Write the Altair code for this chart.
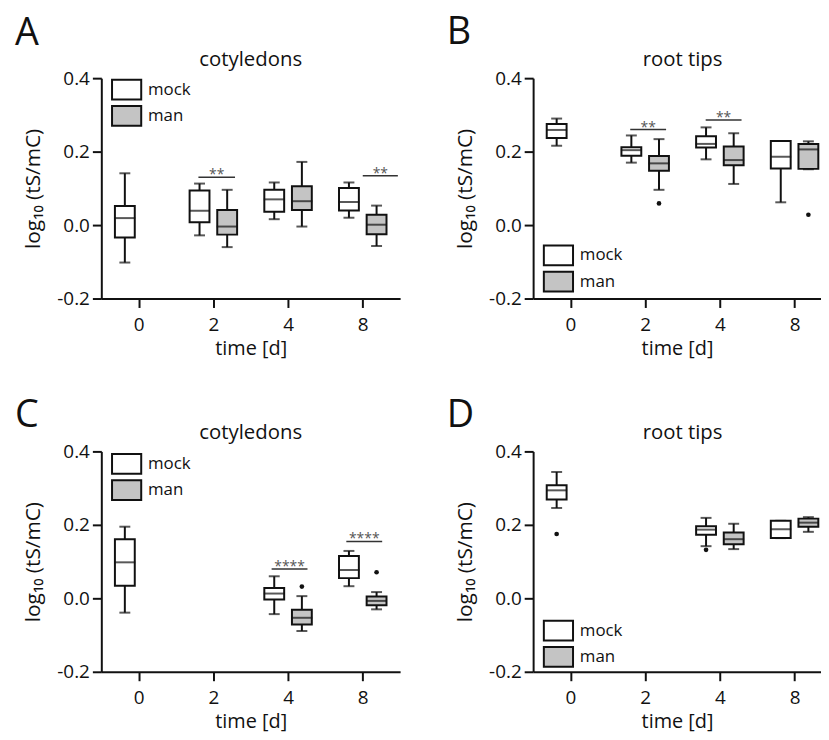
import json
import altair as alt
import pandas as pd

# ---------------- data ----------------
times = ["0", "2", "4", "8"]
groups = ["mock", "man"]
fill_colors = ["white", "#c4c4c4"]

# Panel A - cotyledons
A_time = ["0", "2", "2", "4", "4", "8", "8"]
A_group = ["mock", "mock", "man", "mock", "man", "mock", "man"]
A_low = [-0.102, -0.028, -0.060, 0.016, -0.004, 0.020, -0.057]
A_q1 = [-0.034, 0.008, -0.026, 0.036, 0.041, 0.040, -0.025]
A_med = [0.019, 0.039, -0.004, 0.070, 0.065, 0.063, 0.001]
A_q3 = [0.052, 0.094, 0.041, 0.096, 0.106, 0.101, 0.028]
A_high = [0.141, 0.113, 0.096, 0.116, 0.172, 0.116, 0.053]
A_out_time, A_out_group, A_out_val = [], [], []
A_sig_time = ["2", "8"]
A_sig_y = [0.130, 0.134]
A_sig_text = ["**", "**"]
A_sig_from = [-0.20, 0.00]
A_sig_to = [0.29, 0.47]

# Panel B - root tips
B_time = ["0", "2", "2", "4", "4", "8", "8"]
B_group = ["mock", "mock", "man", "mock", "man", "mock", "man"]
B_low = [0.216, 0.170, 0.096, 0.179, 0.112, 0.062, 0.152]
B_q1 = [0.237, 0.189, 0.148, 0.211, 0.163, 0.154, 0.153]
B_med = [0.259, 0.204, 0.168, 0.221, 0.177, 0.186, 0.206]
B_q3 = [0.275, 0.212, 0.188, 0.242, 0.214, 0.229, 0.221]
B_high = [0.290, 0.244, 0.234, 0.266, 0.250, 0.229, 0.228]
B_out_time = ["2", "8"]
B_out_group = ["man", "man"]
B_out_val = [0.059, 0.028]
B_sig_time = ["2", "4"]
B_sig_y = [0.260, 0.286]
B_sig_text = ["**", "**"]
B_sig_from = [-0.20, -0.19]
B_sig_to = [0.28, 0.29]

# Panel C - cotyledons
C_time = ["0", "4", "4", "8", "8"]
C_group = ["mock", "mock", "man", "mock", "man"]
C_low = [-0.039, -0.043, -0.089, 0.033, -0.030]
C_q1 = [0.034, -0.003, -0.071, 0.055, -0.019]
C_med = [0.098, 0.013, -0.053, 0.077, -0.007]
C_q3 = [0.161, 0.028, -0.031, 0.115, 0.005]
C_high = [0.195, 0.060, 0.006, 0.129, 0.017]
C_out_time = ["4", "8"]
C_out_group = ["man", "man"]
C_out_val = [0.032, 0.071]
C_sig_time = ["4", "8"]
C_sig_y = [0.080, 0.155]
C_sig_text = ["****", "****"]
C_sig_from = [-0.22, -0.22]
C_sig_to = [0.26, 0.26]

# Panel D - root tips
D_time = ["0", "4", "4", "8", "8"]
D_group = ["mock", "mock", "man", "mock", "man"]
D_low = [0.246, 0.142, 0.134, 0.164, 0.181]
D_q1 = [0.269, 0.173, 0.147, 0.164, 0.195]
D_med = [0.294, 0.187, 0.161, 0.188, 0.206]
D_q3 = [0.308, 0.196, 0.179, 0.211, 0.217]
D_high = [0.344, 0.219, 0.203, 0.211, 0.221]
D_out_time = ["0", "4"]
D_out_group = ["mock", "mock"]
D_out_val = [0.175, 0.132]
D_sig_time, D_sig_y, D_sig_text, D_sig_from, D_sig_to = [], [], [], [], []

# ---------------- styling ----------------
FONT = "Open Sans"
BLACK = "#111111"
OFF = 0.185
UNIT = 75.25  # pixels per category step
PLOT_H = 222
IDX = "indexof(" + json.dumps(times) + ", datum.time)"
POS = IDX + " + (datum.group == 'mock' ? -%s : %s)" % (OFF, OFF)
LEGEND_PATH = "M-1.4,-0.95L1.4,-0.95L1.4,0.95L-1.4,0.95Z"

Y_SCALE = alt.Scale(domain=[-0.2, 0.4], nice=False, zero=False, padding=0)
X_AXIS = alt.Axis(values=[0, 1, 2, 3], title="time [d]",
                  labelExpr="%s[datum.value]" % json.dumps(times),
                  labelPadding=8, titlePadding=4, titleFontSize=20)
Y_AXIS = alt.Axis(values=[-0.2, 0.0, 0.2, 0.4], title="log\u2081\u2080 (tS/mC)",
                  labelExpr="datum.value < 0 ? '-' + format(-datum.value, '.1f') : format(datum.value, '.1f')",
                  labelPadding=3, titlePadding=13, titleFontSize=21)


def panel(time, group, low, q1, med, q3, high,
          o_time, o_group, o_val,
          s_time, s_y, s_text, s_from, s_to,
          title, letter, letter_y, legend_y, width):
    xmax = -0.5 + width / UNIT
    x_scale = alt.Scale(domain=[-0.5, xmax], nice=False, zero=False, padding=0)

    def X(field):
        return alt.X(field, type="quantitative", scale=x_scale, axis=X_AXIS)

    def Y(field):
        return alt.Y(field, type="quantitative", scale=Y_SCALE, axis=Y_AXIS)

    box = pd.DataFrame({"time": time, "group": group, "low": low, "q1": q1,
                        "med": med, "q3": q3, "high": high})
    base = alt.Chart(box).transform_calculate(pos=POS)

    whisker = base.mark_rule(strokeWidth=2, color=BLACK).encode(
        x=X("pos"), y=Y("low"), y2="high")
    cap_low = base.mark_tick(orient="horizontal", size=11, thickness=2, color=BLACK).encode(
        x=X("pos"), y=Y("low"))
    cap_high = base.mark_tick(orient="horizontal", size=11, thickness=2, color=BLACK).encode(
        x=X("pos"), y=Y("high"))
    bars = base.mark_bar(size=20, stroke=BLACK, strokeWidth=2).encode(
        x=X("pos"), y=Y("q1"), y2="q3",
        fill=alt.Fill("group:N",
                      scale=alt.Scale(domain=groups, range=fill_colors),
                      legend=alt.Legend(orient="none", legendX=14, legendY=legend_y,
                                        title=None, symbolType=LEGEND_PATH,
                                        symbolSize=441, symbolStrokeColor=BLACK,
                                        symbolStrokeWidth=2, symbolOpacity=1,
                                        labelFont=FONT, labelFontSize=17,
                                        labelColor=BLACK, labelOffset=10,
                                        rowPadding=-2.5, padding=0)))
    median = base.mark_tick(orient="horizontal", size=21, thickness=2, color=BLACK).encode(
        x=X("pos"), y=Y("med"))
    layers = [whisker, cap_low, cap_high, bars, median]

    if o_val:
        out = pd.DataFrame({"time": o_time, "group": o_group, "val": o_val})
        layers.append(alt.Chart(out).transform_calculate(pos=POS)
                      .mark_circle(size=22, color=BLACK, opacity=1)
                      .encode(x=X("pos"), y=Y("val")))
    if s_y:
        sig = pd.DataFrame({"time": s_time, "y": s_y, "text": s_text,
                            "f": s_from, "t": s_to})
        sbase = alt.Chart(sig).transform_calculate(
            x0=IDX + " + datum.f", x1=IDX + " + datum.t",
            xm=IDX + " + (datum.f + datum.t) / 2")
        layers.append(sbase.mark_rule(strokeWidth=1.5, color="#333333")
                      .encode(x=X("x0"), x2="x1", y=Y("y")))
        layers.append(sbase.mark_text(font=FONT, fontSize=14, color="#555555",
                                      baseline="alphabetic", dy=2)
                      .encode(x=X("xm"), y=Y("y"), text="text:N"))

    # panel title (centred over the x = 0..8 band area) and panel letter
    layers.append(alt.Chart(pd.DataFrame({"label": [title]})).mark_text(
        font=FONT, fontSize=20.5, align="center", baseline="alphabetic", color=BLACK
    ).encode(x=alt.value(150.5), y=alt.value(-12), text="label:N"))
    layers.append(alt.Chart(pd.DataFrame({"label": [letter]})).mark_text(
        font=FONT, fontSize=38, align="left", baseline="alphabetic", color=BLACK
    ).encode(x=alt.value(-87), y=alt.value(letter_y), text="label:N"))

    return alt.layer(*layers).properties(width=width, height=PLOT_H)


pA = panel(A_time, A_group, A_low, A_q1, A_med, A_q3, A_high,
           A_out_time, A_out_group, A_out_val,
           A_sig_time, A_sig_y, A_sig_text, A_sig_from, A_sig_to,
           "cotyledons", "A", -33, 0, 301)
pB = panel(B_time, B_group, B_low, B_q1, B_med, B_q3, B_high,
           B_out_time, B_out_group, B_out_val,
           B_sig_time, B_sig_y, B_sig_text, B_sig_from, B_sig_to,
           "root tips", "B", -34, 167, 290)
pC = panel(C_time, C_group, C_low, C_q1, C_med, C_q3, C_high,
           C_out_time, C_out_group, C_out_val,
           C_sig_time, C_sig_y, C_sig_text, C_sig_from, C_sig_to,
           "cotyledons", "C", -25, 1, 301)
pD = panel(D_time, D_group, D_low, D_q1, D_med, D_q3, D_high,
           D_out_time, D_out_group, D_out_val,
           D_sig_time, D_sig_y, D_sig_text, D_sig_from, D_sig_to,
           "root tips", "D", -25, 169, 290)

top = alt.hconcat(pA, pB, spacing=47).resolve_scale(fill="independent").resolve_legend(fill="independent")
bottom = alt.hconcat(pC, pD, spacing=47).resolve_scale(fill="independent").resolve_legend(fill="independent")

chart = alt.vconcat(top, bottom, spacing=39).resolve_scale(
    fill="independent").resolve_legend(fill="independent").properties(
    padding={"left": 7, "top": 4, "right": 0, "bottom": 0},
    background="white",
).configure_view(stroke=None).configure_axis(
    grid=False, domainColor=BLACK, domainWidth=2, tickColor=BLACK, tickWidth=2,
    tickSize=9, labelFont=FONT, labelFontSize=19, labelColor=BLACK,
    titleFont=FONT, titleFontSize=19, titleFontWeight="normal", titleColor=BLACK,
)

chart.save("out.html", embed_options={"renderer": "svg", "actions": False})
